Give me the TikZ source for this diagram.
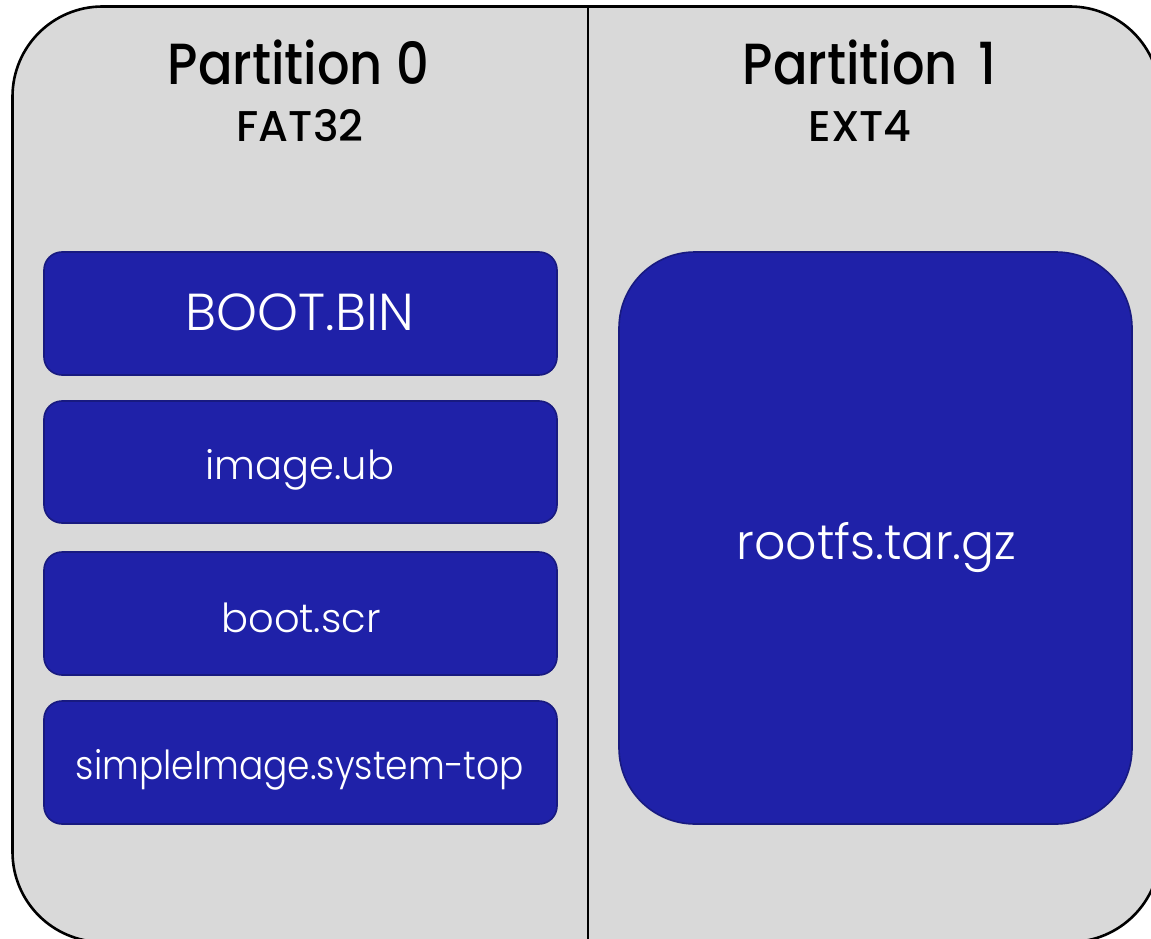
\documentclass[tikz,border=0pt]{standalone}
\usepackage{fontspec}
\setmainfont{Poppins}
\newfontfamily\lightfont{Poppins Light}
\newfontfamily\headfont{Poppins Medium}
\newcommand\hsqueeze[2]{\scalebox{#1}[1]{#2}}
\definecolor{panelgray}{HTML}{D9D9D9}
\definecolor{fileblue}{HTML}{1F21A8}
\definecolor{fileedge}{HTML}{181A80}
\tikzset{
  panel/.style={draw=black, line width=2.6pt, fill=panelgray, rounded corners=90pt},
  filebox/.style={draw=fileedge, line width=1.6pt, fill=fileblue, rounded corners=18pt},
  bigfile/.style={draw=fileedge, line width=1.6pt, fill=fileblue, rounded corners=76pt},
  title/.style={text=black, font=\headfont\fontsize{58}{60}\selectfont, inner sep=0pt, anchor=base},
  subtitle/.style={text=black, font=\headfont\fontsize{43}{45}\selectfont, inner sep=0pt, anchor=base},
  fname/.style={text=white, font=\lightfont\fontsize{40}{42}\selectfont, inner sep=0pt, anchor=base},
}
\begin{document}
\begin{tikzpicture}[x=1pt,y=-1pt]
  \useasboundingbox (0,0) rectangle (1151,939);
  % outer card holding both partitions
  \begin{scope}
    \clip (0,0) rectangle (1151,939);
    \draw[panel] (12.5,6.5) rectangle (1160,942);
  \end{scope}
  % partition divider
  \coordinate (divtop) at (588,6.5);
  \coordinate (divbot) at (588,939);
  \draw[line width=2pt] (divtop) -- (divbot);

  % headings
  \node[title] (p0) at (298.5,85) {\hsqueeze{0.88}{Partition 0}};
  \node[subtitle] (fs0) at (300,142) {FAT32};
  \node[title] (p1) at (869.5,85) {\hsqueeze{0.88}{Partition \hspace{8pt}1}};
  \node[subtitle] (fs1) at (860,142) {EXT4};

  % files in partition 0
  \draw[filebox] (44,252) rectangle (557,375);
  \node[fname, font=\lightfont\fontsize{52}{54}\selectfont] (bootbin) at (300,330) {BOOT.BIN};
  \draw[filebox] (44,401) rectangle (557,523);
  \node[fname] (imageub) at (300,479) {image.ub};
  \draw[filebox] (44,552) rectangle (557,675);
  \node[fname] (bootscr) at (301,632) {boot.scr};
  \draw[filebox] (44,701) rectangle (557,824);
  \node[fname] (simpleimg) at (300,779) {\hsqueeze{0.9}{simpleImage.system-top}};

  % file in partition 1
  \draw[bigfile] (619,252) rectangle (1132,824);
  \node[fname, font=\lightfont\fontsize{49}{51}\selectfont] (rootfs) at (876.5,559) {rootfs.tar.gz};
\end{tikzpicture}
\end{document}
